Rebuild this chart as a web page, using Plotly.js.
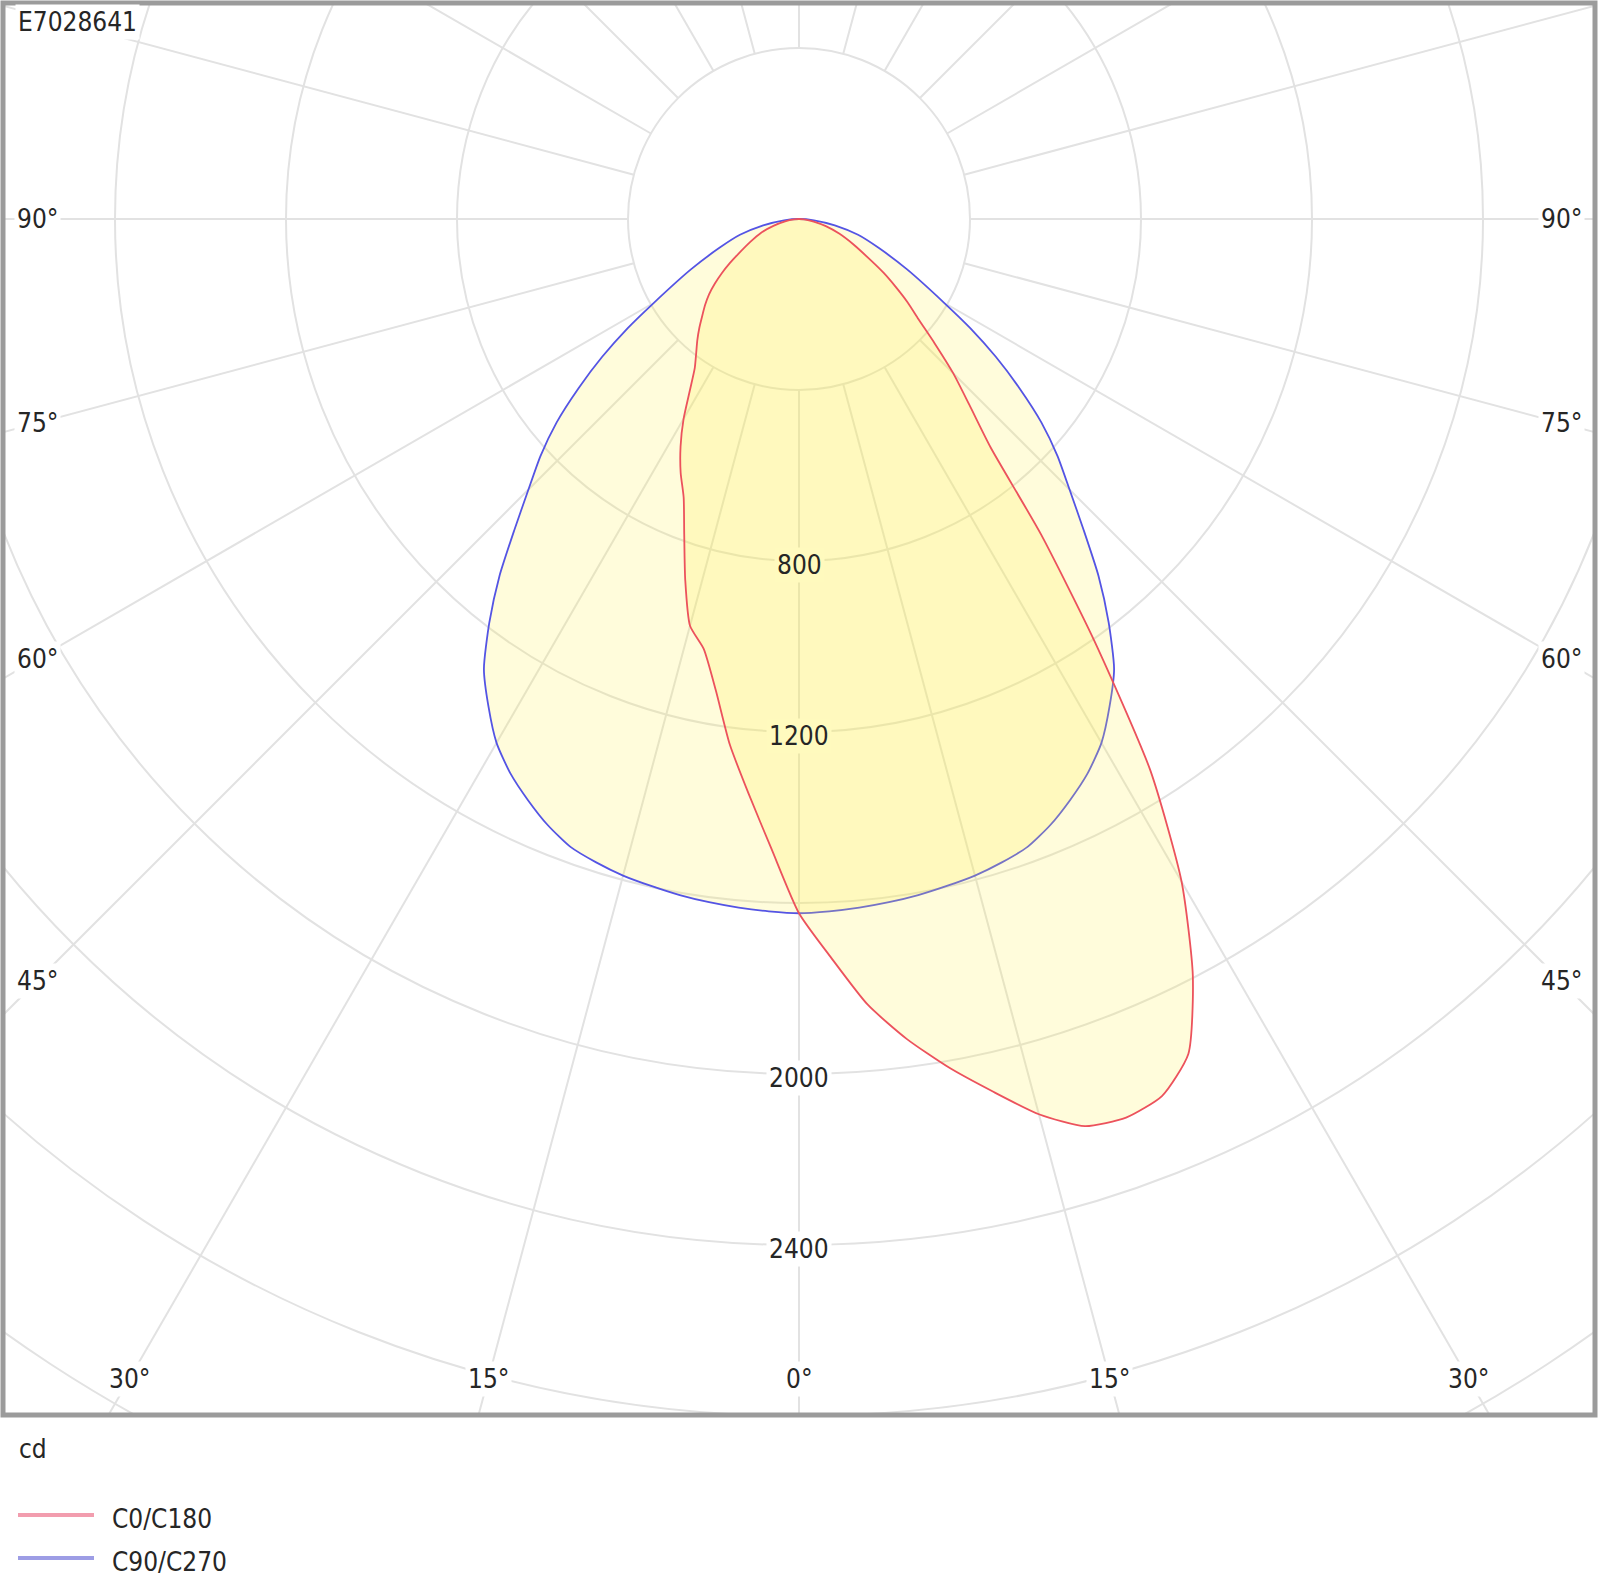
<!DOCTYPE html>
<html>
<head>
<meta charset="utf-8">
<script src="https://cdn.plot.ly/plotly-3.0.1.min.js"></script>
<style>
  html, body { margin: 0; padding: 0; background: #ffffff; }
  #chart { width: 1599px; height: 1582px; }
</style>
</head>
<body>
<div id="chart"></div>
<script>
// ---------------- data ----------------
const chartId = 'E7028641';
const unitLabel = 'cd';
const seriesNames = ['C0/C180', 'C90/C270'];

// gamma angles (deg, 0 = straight down)
const gammaDeg = [0, 2.5, 5, 7.5, 10, 12.5, 15, 17.5, 20, 22.5, 25, 27.5, 30, 32.5, 35,
                  37.5, 40, 42.5, 45, 47.5, 50, 52.5, 55, 57.5, 60, 65, 70, 75, 80, 85, 90];

// luminous intensity (cd)
const c0Values   = [1624, 1730, 1845, 1935, 2015, 2090, 2168, 2225, 2237, 2220, 2155, 1995, 1790, 1530, 1204,
                    930, 697, 590, 510, 430, 365, 320, 275, 235, 195, 140, 100, 65, 35, 12, 0];
const c180Values = [1624, 1475, 1350, 1240, 1120, 1030, 985, 885, 785, 705, 655, 600, 540, 475, 425,
                    395, 370, 345, 320, 298, 275, 248, 220, 192, 165, 125, 95, 62, 33, 12, 0];
const c90Values  = [1624, 1621, 1617, 1612, 1606, 1598, 1590, 1578, 1563, 1535, 1500, 1462, 1415, 1352, 1285,
                    1190, 1090, 985, 895, 820, 740, 650, 562, 475, 392, 279, 199, 143, 85, 35, 0];
const c270Values = [1624, 1621, 1617, 1612, 1606, 1598, 1590, 1578, 1563, 1535, 1500, 1462, 1415, 1352, 1285,
                    1190, 1090, 985, 895, 820, 740, 650, 562, 475, 392, 279, 199, 143, 85, 35, 0];

// grid
const gridRadii = [400, 800, 1200, 1600, 2000, 2400, 2800, 3200, 3600, 4000];
const radialLabelValues = [800, 1200, 2000, 2400];
const spokeAngles = [];
for (let a = 0; a < 360; a += 15) spokeAngles.push(a);
const angleLabelValues = [0, 15, 30, 45, 60, 75, 90];

// ---------------- geometry helpers ----------------
const W = 1599, H = 1582;
const M = { l: 3, r: 4, t: 3, b: 167 };
const PW = W - M.l - M.r, PH = H - M.t - M.b;
const CX = 799, CY = 219;             // pole position in px
const PX_PER_CD = 171 / 400;          // radial scale
const xRange = [-(CX - M.l) / PX_PER_CD, (M.l + PW - CX) / PX_PER_CD];
const yRange = [-(M.t + PH - CY) / PX_PER_CD, (CY - M.t) / PX_PER_CD];
const DEG = Math.PI / 180;

function toXY(gam, vals, side) {
  return {
    x: gam.map((g, i) => side * vals[i] * Math.sin(g * DEG)),
    y: gam.map((g, i) => -vals[i] * Math.cos(g * DEG))
  };
}
function closedCurve(gam, leftVals, rightVals) {
  const L = toXY(gam, leftVals, -1), R = toXY(gam, rightVals, 1);
  return {
    x: L.x.slice().reverse().concat(R.x.slice(1)),
    y: L.y.slice().reverse().concat(R.y.slice(1))
  };
}
const pxX = px => (px - M.l) / PW;
const pxY = py => 1 - (py - M.t) / PH;

// ---------------- styles ----------------
const FONT = 'DejaVu Sans Condensed, DejaVu Sans, sans-serif';
const TXT = '#262626';
const GRID = '#e2e2e2';
const FILL = 'rgba(255,242,75,0.2)';
const OVERLAP_BG = 'rgb(255,250,190)';

// ---------------- traces ----------------
const redCurve = closedCurve(gammaDeg, c180Values, c0Values);
const blueCurve = closedCurve(gammaDeg, c270Values, c90Values);

const traces = [
  {
    type: 'scatter', mode: 'lines', name: seriesNames[1],
    x: blueCurve.x, y: blueCurve.y,
    fill: 'toself', fillcolor: FILL,
    line: { color: 'rgb(84,84,228)', width: 1.8, shape: 'spline', smoothing: 0.6 },
    hoverinfo: 'skip', showlegend: false
  },
  {
    type: 'scatter', mode: 'lines', name: seriesNames[0],
    x: redCurve.x, y: redCurve.y,
    fill: 'toself', fillcolor: FILL,
    line: { color: 'rgb(236,82,92)', width: 1.8, shape: 'spline', smoothing: 0.6 },
    hoverinfo: 'skip', showlegend: false
  }
];

// ---------------- shapes ----------------
const shapes = [];
gridRadii.forEach(r => shapes.push({
  type: 'circle', xref: 'x', yref: 'y', x0: -r, x1: r, y0: -r, y1: r,
  line: { color: GRID, width: 2 }, layer: 'below'
}));
spokeAngles.forEach(a => {
  const r0 = gridRadii[0], r1 = 8000;
  shapes.push({
    type: 'line', xref: 'x', yref: 'y',
    x0: r0 * Math.sin(a * DEG), y0: -r0 * Math.cos(a * DEG),
    x1: r1 * Math.sin(a * DEG), y1: -r1 * Math.cos(a * DEG),
    line: { color: GRID, width: 2 }, layer: 'below'
  });
});
// frame
shapes.push({
  type: 'rect', xref: 'paper', yref: 'paper', x0: 0, x1: 1, y0: 0, y1: 1,
  line: { color: '#9b9b9b', width: 5 }, layer: 'above'
});
// legend lines
shapes.push({ type: 'line', xref: 'paper', yref: 'paper', x0: pxX(18), x1: pxX(94), y0: pxY(1515), y1: pxY(1515),
  line: { color: 'rgba(240,140,160,0.85)', width: 4 } });
shapes.push({ type: 'line', xref: 'paper', yref: 'paper', x0: pxX(18), x1: pxX(94), y0: pxY(1558), y1: pxY(1558),
  line: { color: 'rgba(140,140,225,0.85)', width: 4 } });

// ---------------- annotations ----------------
const annotations = [];
const tfont = { family: FONT, size: 26, color: TXT };

radialLabelValues.forEach(v => annotations.push({
  xref: 'x', yref: 'y', x: 0, y: -v, yshift: -4,
  text: String(v), showarrow: false, font: tfont,
  bgcolor: v <= 1200 ? OVERLAP_BG : '#ffffff', borderpad: 2,
  xanchor: 'center', yanchor: 'middle'
}));

// angle labels placed where each spoke meets an inset frame
const labelHalfW = (799 - 37) / PX_PER_CD;   // horizontal distance of side labels
const labelDown = (1379 - CY) / PX_PER_CD;   // vertical distance of bottom labels
angleLabelValues.forEach(g => {
  [1, -1].forEach(side => {
    if (g === 0 && side === -1) return;
    const s = Math.sin(g * DEG), c = Math.cos(g * DEG);
    const t = Math.min(s > 1e-9 ? labelHalfW / s : Infinity, c > 1e-9 ? labelDown / c : Infinity);
    annotations.push({
      xref: 'x', yref: 'y', x: side * t * s, y: -t * c,
      text: g + '°', showarrow: false, font: tfont,
      bgcolor: '#ffffff', borderpad: 2, xanchor: 'center', yanchor: 'middle'
    });
  });
});

annotations.push({
  xref: 'paper', yref: 'paper', x: pxX(15), y: pxY(22), text: chartId,
  showarrow: false, font: tfont, bgcolor: '#ffffff', borderpad: 2,
  xanchor: 'left', yanchor: 'middle'
});
annotations.push({
  xref: 'paper', yref: 'paper', x: pxX(17), y: pxY(1449), text: unitLabel,
  showarrow: false, font: tfont, xanchor: 'left', yanchor: 'middle'
});
annotations.push({
  xref: 'paper', yref: 'paper', x: pxX(110), y: pxY(1519), text: seriesNames[0],
  showarrow: false, font: tfont, xanchor: 'left', yanchor: 'middle'
});
annotations.push({
  xref: 'paper', yref: 'paper', x: pxX(110), y: pxY(1562), text: seriesNames[1],
  showarrow: false, font: tfont, xanchor: 'left', yanchor: 'middle'
});

// ---------------- layout ----------------
const axisCommon = { visible: false, showgrid: false, zeroline: false, showticklabels: false, fixedrange: true };
const layout = {
  width: W, height: H,
  margin: M,
  paper_bgcolor: '#ffffff', plot_bgcolor: '#ffffff',
  showlegend: false,
  xaxis: Object.assign({ range: xRange }, axisCommon),
  yaxis: Object.assign({ range: yRange }, axisCommon),
  shapes: shapes,
  annotations: annotations
};

Plotly.newPlot('chart', traces, layout, { staticPlot: true, displayModeBar: false });
</script>
</body>
</html>
